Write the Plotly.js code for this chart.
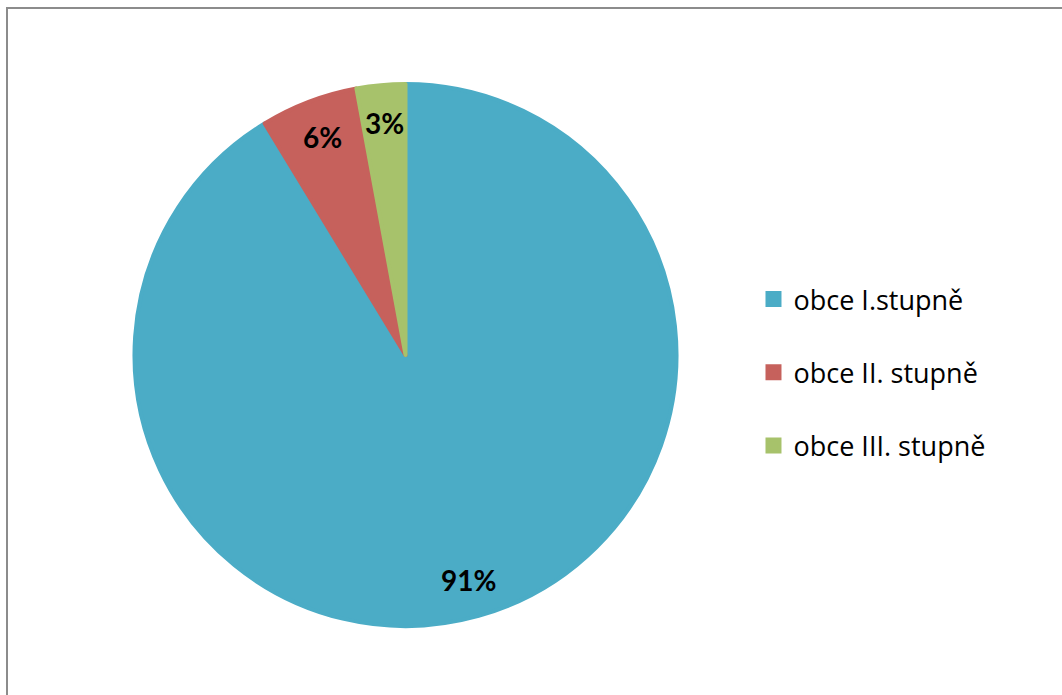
<!DOCTYPE html>
<html>
<head>
<meta charset="utf-8">
<script src="https://cdn.plot.ly/plotly-3.0.1.min.js"></script>
<style>
  html, body { margin: 0; padding: 0; background: #fff; overflow: hidden; }
  #frame { position: absolute; left: 6px; top: 7px; width: 1100px; height: 740px; border: 2px solid #8c8c8c; box-sizing: border-box; }
  #chart { position: absolute; left: 0; top: 0; width: 1062px; height: 695px; }
</style>
</head>
<body>
<div id="frame"></div>
<div id="chart"></div>
<script>
// Data
const categories = ["obce I.stupně", "obce II. stupně", "obce III. stupně"];
const values = [91.3, 5.8, 2.9];
const colors = ["#4BACC6", "#C6615C", "#A7C26B"];

// Geometry of the pie (paper layout, not data)
const W = 1062, H = 695;
const cx = 405.5, cy = 355, R = 273;
const labelRadiusFrac = 0.855;

const legendLabels = categories.map(c => c + "<br> ");

const trace = {
  type: "pie",
  labels: legendLabels,
  values: values,
  sort: false,
  direction: "clockwise",
  rotation: 0,
  marker: { colors: colors, line: { color: colors, width: 4 } },
  textinfo: "none",
  hoverinfo: "label+percent",
  domain: { x: [(cx - R + 2) / W, (cx + R - 2) / W], y: [1 - (cy + R - 2) / H, 1 - (cy - R + 2) / H] }
};

// Percentage labels placed on each slice's bisector, computed from the values
const total = values.reduce((a, b) => a + b, 0);
let cum = 0;
const annotations = values.map((v, i) => {
  const mid = (cum + v / 2) / total * 2 * Math.PI;
  cum += v;
  const px = cx + labelRadiusFrac * R * Math.sin(mid);
  const py = cy - labelRadiusFrac * R * Math.cos(mid);
  return {
    xref: "paper", yref: "paper",
    x: px / W, y: 1 - py / H,
    xanchor: "center", yanchor: "middle",
    showarrow: false,
    text: Math.round(v / total * 100) + "%",
    font: { family: "Lato, 'Open Sans', sans-serif", size: 28, color: "#000", weight: 700 }
  };
});

const layout = {
  width: W,
  height: H,
  margin: { l: 0, r: 0, t: 0, b: 0 },
  paper_bgcolor: "rgba(0,0,0,0)",
  plot_bgcolor: "rgba(0,0,0,0)",
  showlegend: true,
  annotations: annotations,
  legend: {
    x: 0.7095, y: 1 - 275 / H, xanchor: "left", yanchor: "top",
    valign: "top",
    font: { family: "'Open Sans', sans-serif", size: 27, color: "#000" },
    itemwidth: 30,
    bgcolor: "rgba(0,0,0,0)"
  }
};

Plotly.newPlot("chart", [trace], layout, { displayModeBar: false, staticPlot: true });
</script>
</body>
</html>
